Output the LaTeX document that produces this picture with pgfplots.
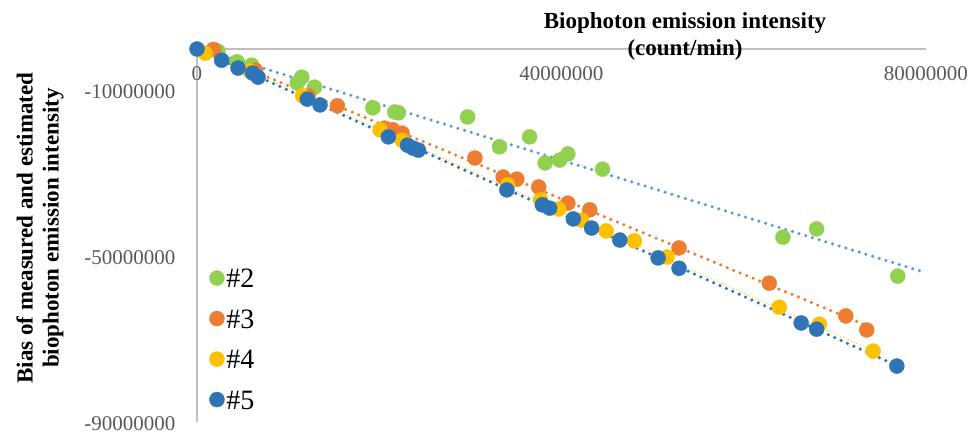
\documentclass[border=0pt]{standalone}
\usepackage{fontspec}
\setmainfont{Liberation Serif}
\usepackage{pgfplots}
\pgfplotsset{compat=1.18}
\definecolor{cgreen}{HTML}{92D050}
\definecolor{corange}{HTML}{ED7D31}
\definecolor{cyellow}{HTML}{FFC000}
\definecolor{cblue}{HTML}{2E75B6}
\definecolor{ctrend}{HTML}{5B9BD5}
\definecolor{caxis}{HTML}{BFBFBF}
\definecolor{ctick}{HTML}{595959}
\begin{document}
\begin{tikzpicture}
\useasboundingbox (-197pt,-12pt) rectangle (772pt,422pt);
\begin{axis}[
  at={(0pt,0pt)}, anchor=south west,
  scale only axis, width=729pt, height=373pt,
  xmin=0, xmax=80000000, ymin=-90000000, ymax=0,
  clip=false,
  axis x line=top, axis y line=left,
  axis line style={-, draw=caxis, line width=1.2pt},
  major tick length=0pt,
  scaled ticks=false,
  xtick={0,40000000,80000000},
  xticklabels={0,40000000,80000000},
  ytick={-10000000,-50000000,-90000000},
  yticklabels={-10000000,-50000000,-90000000},
  ticklabel style={font=\fontsize{21}{23}\selectfont, text=ctick},
  xticklabel style={anchor=north, yshift=-14pt},
  yticklabel style={anchor=east, xshift=-18pt, yshift=-1.5pt},
  legend style={draw=none, fill=none, inner sep=0pt, outer sep=0pt,
    at={(0.0171,0.414)}, anchor=north west,
    font=\fontsize{28}{28}\selectfont,
    nodes={text height=18pt, text depth=5pt},
    row sep=13.5pt},
  legend cell align=left,
  legend image code/.code={\draw[#1] plot[mark=*] coordinates {(0pt,3pt)};},
]
\addplot[only marks, mark=*, mark size=7.5pt, mark options={draw=cgreen, fill=cgreen}] coordinates {
(2300000,-500000) (4400000,-3100000) (6000000,-3900000) (11500000,-6800000)
(11000000,-8200000) (12900000,-9200000) (19300000,-14200000) (21700000,-15200000)
(22100000,-15400000) (29700000,-16400000) (33200000,-23600000) (36500000,-21200000)
(38200000,-27500000) (39800000,-26800000) (40700000,-25300000) (44500000,-29000000)
(64300000,-45400000) (68000000,-43400000) (76900000,-54800000)};
\addlegendentry{\#2}
\addplot[only marks, mark=*, mark size=7.5pt, mark options={draw=corange, fill=corange}] coordinates {
(1800000,-100000) (6400000,-5100000) (12200000,-11300000) (15400000,-13700000)
(20600000,-19100000) (21500000,-19500000) (22500000,-20300000) (30500000,-26300000)
(33600000,-30900000) (35100000,-31400000) (37500000,-33300000) (40700000,-37200000)
(43100000,-38800000) (52900000,-48000000) (62800000,-56500000) (71200000,-64400000)
(73500000,-67800000)};
\addlegendentry{\#3}
\addplot[only marks, mark=*, mark size=7.5pt, mark options={draw=cyellow, fill=cyellow}] coordinates {
(900000,-1000000) (5800000,-5300000) (11600000,-11300000) (20100000,-19500000)
(22500000,-22000000) (34100000,-32800000) (37700000,-36400000) (39700000,-38600000)
(42200000,-41300000) (44900000,-43900000) (48000000,-46300000) (51600000,-50200000)
(63900000,-62300000) (68300000,-66400000) (74200000,-72900000)};
\addlegendentry{\#4}
\addplot[only marks, mark=*, mark size=7.5pt, mark options={draw=cblue, fill=cblue}] coordinates {
(0,0) (2700000,-2700000) (4500000,-4600000) (6100000,-5800000) (6700000,-6800000)
(12100000,-12100000) (13500000,-13500000) (21000000,-21200000) (23100000,-23200000)
(23700000,-23900000) (24300000,-24400000) (34000000,-34000000) (37900000,-37600000)
(38700000,-38400000) (41300000,-41000000) (43300000,-43200000) (46400000,-46100000)
(50600000,-50400000) (52900000,-52900000) (66300000,-66100000) (68000000,-67600000)
(76800000,-76500000)};
\addlegendentry{\#5}
% trend lines
\addplot[forget plot, draw=ctrend, line width=3.5pt, line cap=round, dash pattern=on 0pt off 7pt] coordinates {(0,300000) (80000000,-54000000)};
\addplot[forget plot, draw=corange, line width=3.5pt, line cap=round, dash pattern=on 0pt off 7pt] coordinates {(0,280000) (73500000,-66700000)};
\addplot[forget plot, draw=cyellow, line width=1.2pt, line cap=round, dash pattern=on 0pt off 3pt] coordinates {(0,250000) (74200000,-72900000)};
\addplot[forget plot, draw=cblue, line width=3.5pt, line cap=round, dash pattern=on 0pt off 7pt] coordinates {(0,0) (76800000,-76400000)};
\end{axis}
\node[font=\fontsize{23}{27}\selectfont\bfseries, align=center] at (488pt,386pt) {Biophoton emission intensity\\(count/min)};
\node[font=\fontsize{23}{26}\selectfont\bfseries, align=center, rotate=90] at (-157pt,194pt) {Bias of measured and estimated\\biophoton emission intensity};
\end{tikzpicture}
\end{document}
